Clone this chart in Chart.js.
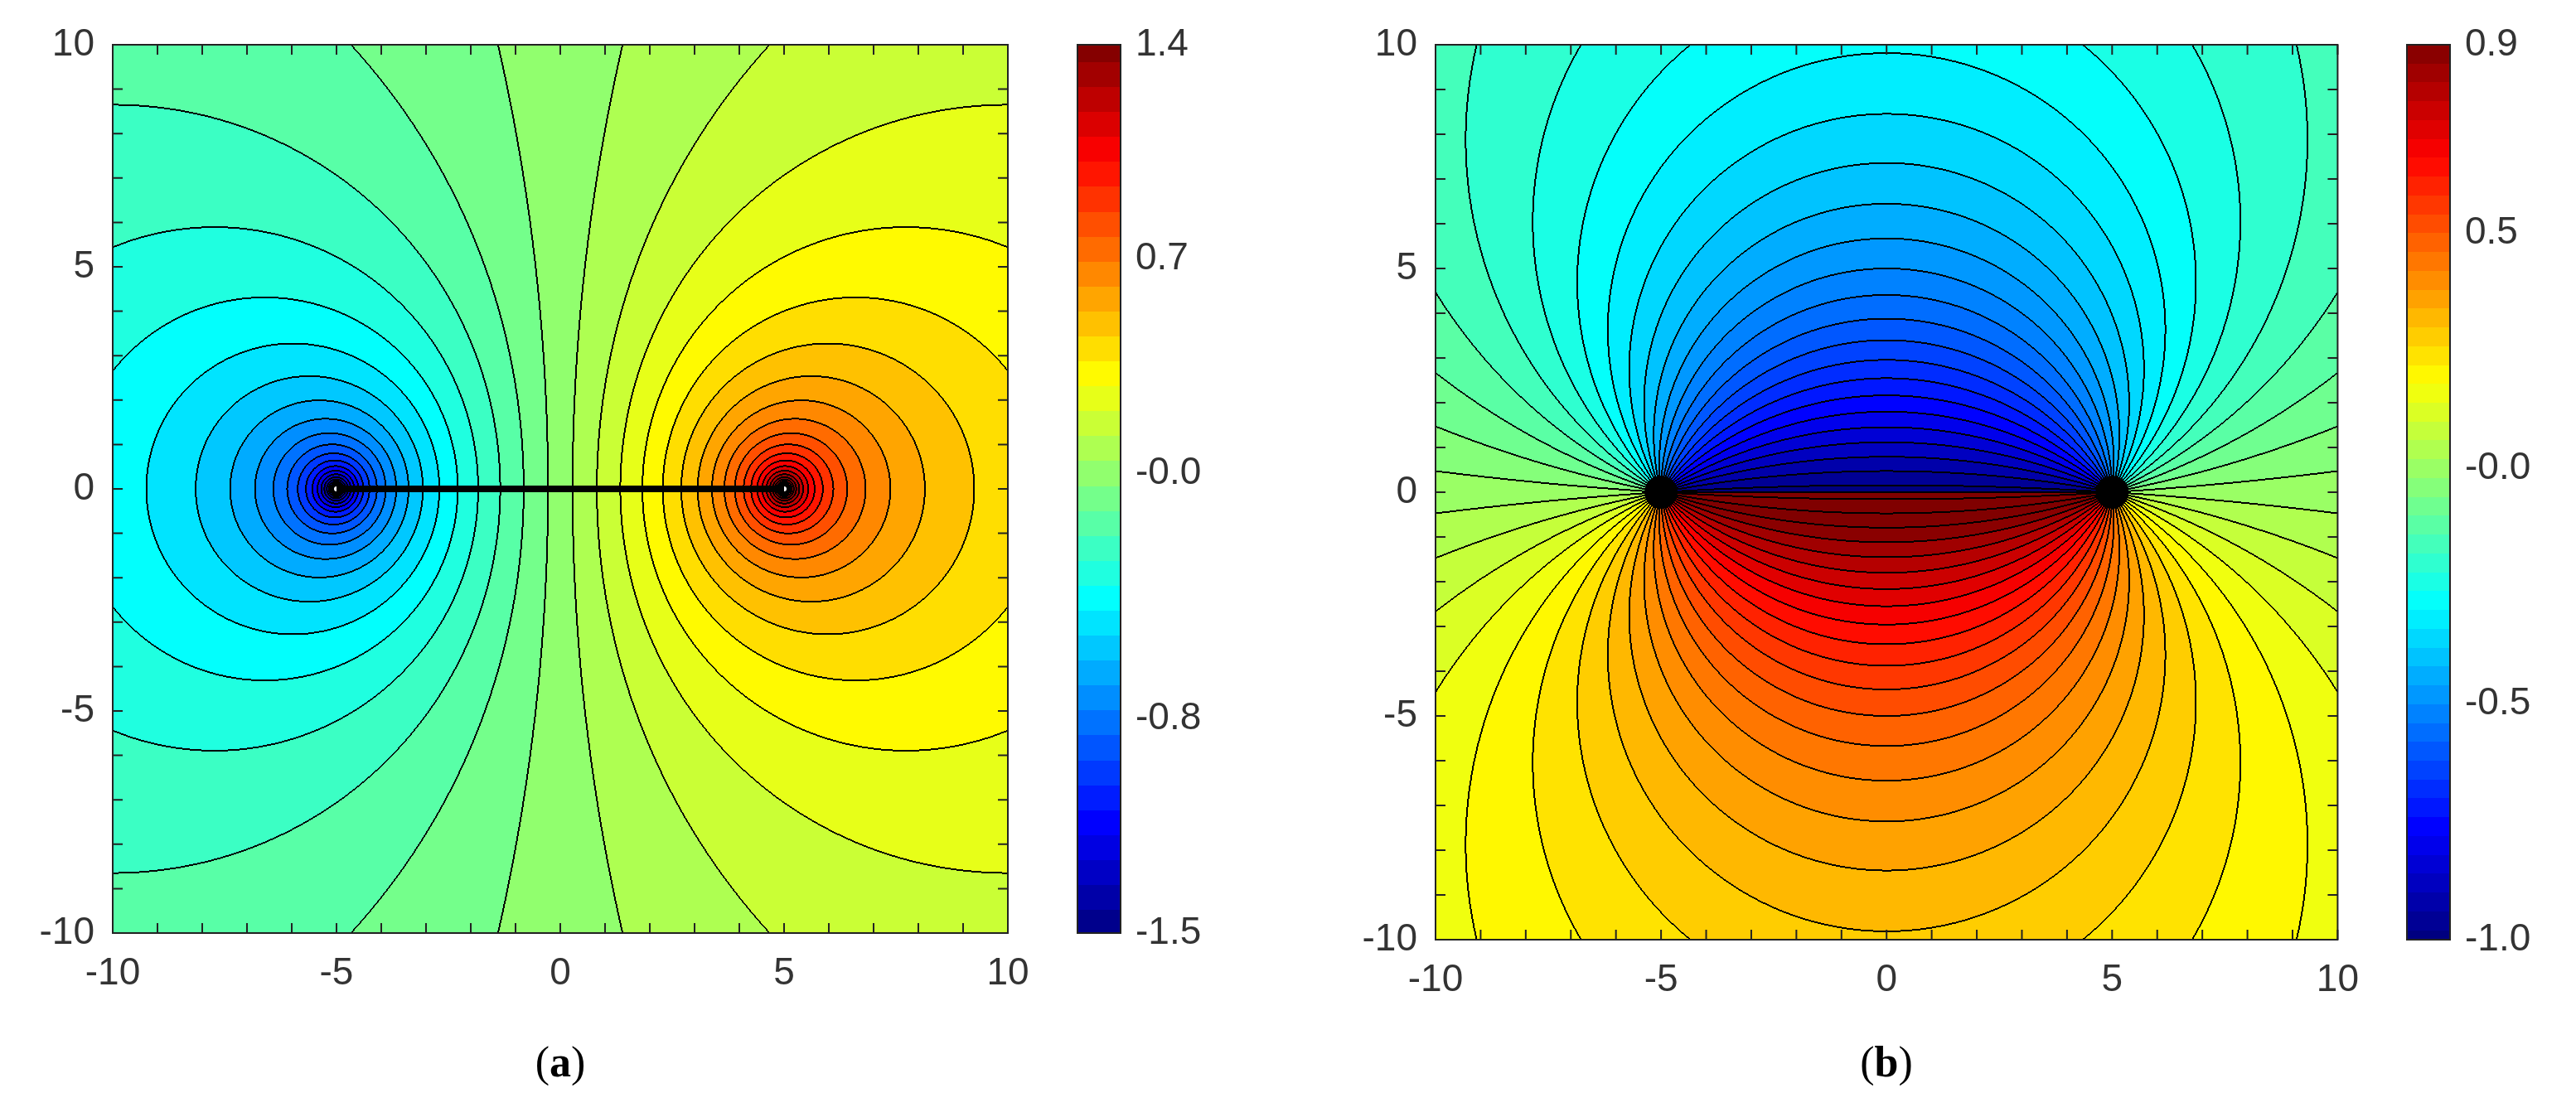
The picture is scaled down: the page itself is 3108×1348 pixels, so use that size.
<!DOCTYPE html>
<html>
<head>
<meta charset="utf-8">
<script src="https://cdn.jsdelivr.net/npm/chart.js@4/dist/chart.umd.min.js"></script>
<style>
  body { margin: 0; background: #fff; width: 3108px; height: 1348px; position: relative; overflow: hidden; }
  .box { position: absolute; }
  .cap { position: absolute; font: 52px "Liberation Serif", serif; color: #000; transform: translateX(-50%); }
</style>
</head>
<body>
<div class="box" style="left:0;top:0;width:1260px;height:1250px"><canvas id="plotA"></canvas></div>
<div class="box" style="left:1290px;top:0;width:170px;height:1250px"><canvas id="barA"></canvas></div>
<div class="box" style="left:1600px;top:0;width:1260px;height:1250px"><canvas id="plotB"></canvas></div>
<div class="box" style="left:2894px;top:0;width:170px;height:1250px"><canvas id="barB"></canvas></div>
<div class="cap" style="left:676px;top:1252px">(<b>a</b>)</div>
<div class="cap" style="left:2276px;top:1252px">(<b>b</b>)</div>
<script>
// axis ticks shared by both panels
var axisTicks = [-10, -5, 0, 5, 10];
// source / sink positions on the x axis
var sourceX = [-5, 5];
var sourceY = [0, 0];
// colour bar ranges and labels
var barTicksA = [-1.5, -0.8, 0.0, 0.7, 1.4];
var barLabelsA = ['-1.5', '-0.8', '-0.0', '0.7', '1.4'];
var barTicksB = [-1.0, -0.5, 0.0, 0.5, 0.9];
var barLabelsB = ['-1.0', '-0.5', '-0.0', '0.5', '0.9'];
// contour spacing (field units)
var levelStepA = 0.0814;
var levelStepB = 0.04;

var FONT = { family: '"Liberation Sans", Arial, sans-serif', size: 46 };
var TXT = '#333';

function jet(t) {
    t = Math.max(0, Math.min(1, t));
    function c(v) { return Math.round(255 * Math.max(0, Math.min(1, v))); }
    return [c(1.5 - Math.abs(4 * t - 3)), c(1.5 - Math.abs(4 * t - 2)), c(1.5 - Math.abs(4 * t - 1))];
}

// potential of the pair (a) and stream function (b)
function fieldA(x, y) {
    var r1 = Math.hypot(x - sourceX[0], y - sourceY[0]);
    var r2 = Math.hypot(x - sourceX[1], y - sourceY[1]);
    return 0.37 * Math.log(r1 / r2);
}
function fieldB(x, y) {
    var a = Math.atan2(y - sourceY[1], x - sourceX[1]) - Math.atan2(y - sourceY[0], x - sourceX[0]);
    while (a > Math.PI) a -= 2 * Math.PI;
    while (a <= -Math.PI) a += 2 * Math.PI;
    return -a / Math.PI;
}

function contourPlugin(fn, step, lo, hi) {
    return {
        id: 'contour',
        beforeDatasetsDraw: function(chart) {
            var ctx = chart.ctx, a = chart.chartArea;
            var sx = chart.scales.x, sy = chart.scales.y;
            var dpr = chart.currentDevicePixelRatio || 1;
            var W = Math.round((a.right - a.left) * dpr), H = Math.round((a.bottom - a.top) * dpr);
            var band = new Int32Array(W * H);
            for (var j = 0; j < H; j++) {
                var yv = sy.getValueForPixel(a.top + (j + 0.5) / dpr);
                for (var i = 0; i < W; i++) {
                    var xv = sx.getValueForPixel(a.left + (i + 0.5) / dpr);
                    band[j * W + i] = Math.floor(fn(xv, yv) / step + 0.5);
                }
            }
            var img = ctx.createImageData(W, H);
            for (j = 0; j < H; j++) {
                for (i = 0; i < W; i++) {
                    var k = j * W + i, b = band[k], p = k * 4;
                    var edge = (i < W - 1 && band[k + 1] !== b) || (j < H - 1 && band[k + W] !== b) ||
                               (i > 0 && band[k - 1] !== b) || (j > 0 && band[k - W] !== b);
                    var c = edge ? [0, 0, 0] : jet((b * step - lo) / (hi - lo));
                    img.data[p] = c[0]; img.data[p + 1] = c[1]; img.data[p + 2] = c[2]; img.data[p + 3] = 255;
                }
            }
            ctx.putImageData(img, Math.round(a.left * dpr), Math.round(a.top * dpr));
        },
        afterDraw: function(chart) {
            var ctx = chart.ctx, a = chart.chartArea;
            var sx = chart.scales.x, sy = chart.scales.y;
            ctx.save();
            ctx.strokeStyle = '#222';
            ctx.lineWidth = 2;
            for (var v = -10; v <= 10; v++) {
                var px = sx.getPixelForValue(v), py = sy.getPixelForValue(v);
                ctx.beginPath();
                ctx.moveTo(px, a.bottom); ctx.lineTo(px, a.bottom - 12);
                ctx.moveTo(px, a.top); ctx.lineTo(px, a.top + 12);
                ctx.moveTo(a.left, py); ctx.lineTo(a.left + 12, py);
                ctx.moveTo(a.right, py); ctx.lineTo(a.right - 12, py);
                ctx.stroke();
            }
            ctx.strokeRect(a.left, a.top, a.right - a.left, a.bottom - a.top);
            ctx.restore();
        }
    };
}

function barPlugin(step, lo, hi) {
    return {
        id: 'cbar',
        beforeDatasetsDraw: function(chart) {
            var ctx = chart.ctx, a = chart.chartArea, sy = chart.scales.y;
            for (var py = Math.floor(a.top); py < a.bottom; py++) {
                var v = sy.getValueForPixel(py + 0.5);
                var b = Math.floor(v / step + 0.5);
                var c = jet((b * step - lo) / (hi - lo));
                ctx.fillStyle = 'rgb(' + c.join(',') + ')';
                ctx.fillRect(a.left, py, a.right - a.left, 1);
            }
            ctx.save();
            ctx.strokeStyle = '#222';
            ctx.lineWidth = 2;
            ctx.strokeRect(a.left, a.top, a.right - a.left, a.bottom - a.top);
            ctx.restore();
        }
    };
}

function plotScales(yWidth, xHeight) {
    function sc(extra) {
        var o = {
            type: 'linear', min: -10, max: 10,
            grid: { display: false }, border: { display: false },
            ticks: { font: FONT, color: TXT, padding: 14 },
            afterBuildTicks: function(s) { s.ticks = axisTicks.map(function(v) { return { value: v }; }); }
        };
        for (var k in extra) o[k] = extra[k];
        return o;
    }
    return {
        x: sc({ afterFit: function(s) { s.height = xHeight; } }),
        y: sc({ afterFit: function(s) { s.width = yWidth; } })
    };
}

function makePlot(id, datasets, plugin, pad, yWidth, xHeight) {
    new Chart(document.getElementById(id), {
        type: 'scatter',
        data: { datasets: datasets },
        options: {
            responsive: true, maintainAspectRatio: false, animation: false,
            layout: { padding: pad },
            plugins: { legend: { display: false }, tooltip: { enabled: false } },
            scales: plotScales(yWidth, xHeight)
        },
        plugins: [plugin]
    });
}

function makeBar(id, ticks, labels, lo, hi, step, bottomPad) {
    new Chart(document.getElementById(id), {
        type: 'scatter',
        data: { datasets: [] },
        options: {
            responsive: true, maintainAspectRatio: false, animation: false,
            layout: { padding: { left: 10, top: 54, bottom: bottomPad, right: 0 } },
            plugins: { legend: { display: false }, tooltip: { enabled: false } },
            scales: {
                x: { display: false },
                y: {
                    position: 'right', min: lo, max: hi,
                    grid: { display: false }, border: { display: false },
                    ticks: {
                        font: FONT, color: TXT, padding: 10,
                        callback: function(v, i) { return labels[i]; }
                    },
                    afterBuildTicks: function(s) { s.ticks = ticks.map(function(v) { return { value: v }; }); },
                    afterFit: function(s) { s.width = 108; }
                }
            }
        },
        plugins: [barPlugin(step, lo, hi)]
    });
}

var pointsA = sourceX.map(function(x, i) { return { x: x, y: sourceY[i] }; });

makePlot('plotA', [
    { type: 'line', data: pointsA, borderColor: '#000', borderWidth: 8, pointRadius: 0 },
    { data: pointsA, pointRadius: 3, pointBackgroundColor: '#fff', pointBorderWidth: 0 }
], contourPlugin(fieldA, levelStepA, barTicksA[0], barTicksA[4]),
   { left: 0, top: 54, right: 44, bottom: 0 }, 136, 124);

makePlot('plotB', [
    { data: pointsA, pointRadius: 20, pointBackgroundColor: '#000', pointBorderWidth: 0 }
], contourPlugin(fieldB, levelStepB, barTicksB[0], barTicksB[4]),
   { left: 0, top: 54, right: 36, bottom: 0 }, 132, 116);

makeBar('barA', barTicksA, barLabelsA, barTicksA[0], barTicksA[4], levelStepA, 124);
makeBar('barB', barTicksB, barLabelsB, barTicksB[0], barTicksB[4], levelStepB, 116);
</script>
</body>
</html>
